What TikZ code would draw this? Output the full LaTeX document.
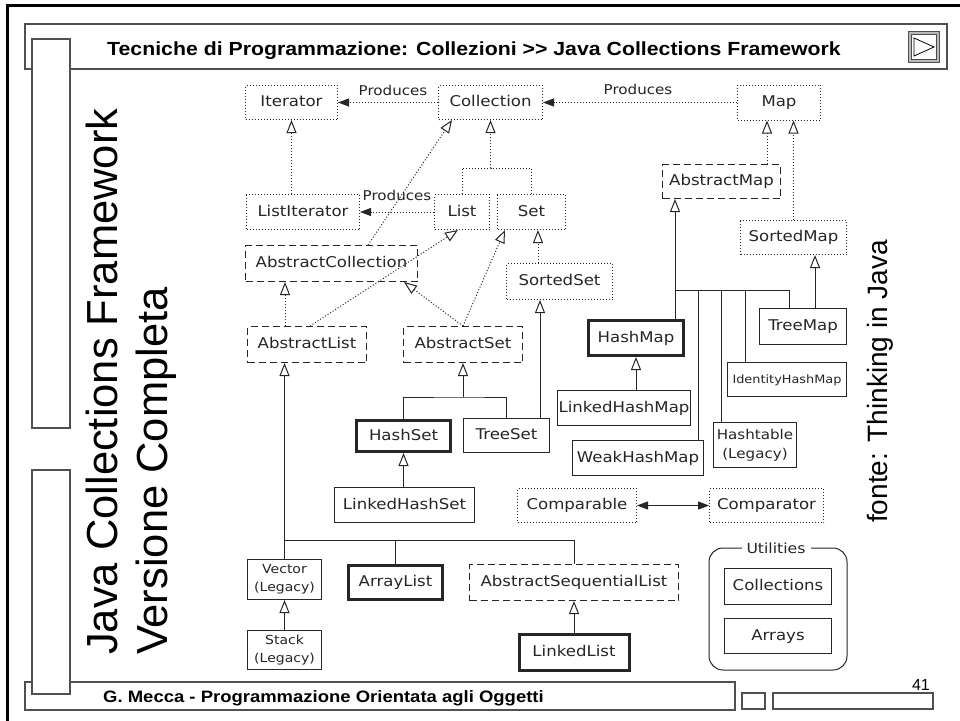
\documentclass[tikz,border=0pt]{standalone}
\usepackage{fontspec}
\setmainfont{DejaVu Sans}[FakeStretch=1.12]
\newfontfamily\arialfont{Liberation Sans}
\newfontfamily\hdrfont[FakeStretch=1.12]{Liberation Sans}
\usetikzlibrary{arrows.meta}
\definecolor{ink}{HTML}{262626}
\definecolor{frm}{HTML}{505050}
\newcommand\dg{\fontsize{14.8}{19}\selectfont}
\newcommand\dgp{\fontsize{13.5}{16}\selectfont}
\newcommand\dgh{\fontsize{13.5}{19}\selectfont}
\newcommand\dgs{\fontsize{12.5}{18}\selectfont}
\newcommand\dgi{\fontsize{11.5}{14}\selectfont}
\tikzset{
  bx/.style={draw=ink, line width=1pt, inner sep=0pt, text=ink, font=\dg},
  sline/.style={text height=11pt, text depth=3pt},
  dotbox/.style={bx, sline, dash pattern=on 1pt off 2pt},
  dashbox/.style={bx, sline, dash pattern=on 7pt off 4pt},
  solbox/.style={bx, sline},
  solbox2/.style={bx, align=center},
  thkbox/.style={bx, sline, line width=3pt},
  dl/.style={draw=ink, line width=1pt, dash pattern=on 1pt off 2pt},
  sl/.style={draw=ink, line width=1pt},
  gen/.style={-{Triangle[open,length=13pt,width=10pt,line width=1pt]}},
  prod/.style={-{Triangle[length=11pt,width=8pt]}},
  lbl/.style={inner sep=0pt, text=ink, font=\dgp},
  frame/.style={draw=frm, line width=1.2pt, fill=white},
}
\begin{document}
\begin{tikzpicture}[x=1pt,y=-1pt]
\useasboundingbox (0,0) rectangle (960,720);
\clip (0,0) rectangle (960,720);
\fill[white] (0,0) rectangle (960,720);
% ---------- slide frame ----------
\draw[line width=3pt] (7,5) rectangle (985,745);
\draw[frame] (25,24) rectangle (947,69);
\draw[frame] (25,682) rectangle (735,710);
\draw[frame] (32,39) rectangle (70,428);
\draw[frame] (32,470) rectangle (70,694);
\draw[frm, line width=1.2pt] (742,693) rectangle (765,709);
\draw[frm, line width=1.2pt] (773,693) rectangle (933,709);
% button
\draw[draw=frm, fill=gray!55, line width=1pt] (908,31) rectangle (939,62);
\draw[draw=gray!60!black, fill=white, line width=0.8pt] (911,34) rectangle (936,59);
\draw[black, line width=0.8pt] (914,38) -- (934,47) -- (914,56) -- cycle;
% ---------- texts ----------
\node[font=\hdrfont\bfseries\fontsize{19}{22}\selectfont, anchor=base west, inner sep=0pt] (hdr) at (107,55.5)
  {Tecniche di Programmazione: Collezioni >{}> Java Collections Framework};
\node[font=\hdrfont\bfseries\fontsize{16.5}{20}\selectfont, anchor=base west, inner sep=0pt] (ftr) at (103,702)
  {G. Mecca - Programmazione Orientata agli Oggetti};
\node[font=\arialfont\fontsize{16}{19}\selectfont, anchor=base east, inner sep=0pt] (pg) at (930,690) {41};
\node[font=\arialfont\fontsize{43.5}{50}\selectfont, rotate=90, anchor=base west, inner sep=0pt] (t1) at (117,655)
  {Java Collections Framework};
\node[font=\arialfont\fontsize{43.5}{50}\selectfont, rotate=90, anchor=base west, inner sep=0pt] (t2) at (167,655)
  {Versione Completa};
\node[font=\arialfont\fontsize{28}{32}\selectfont, rotate=90, anchor=base west, inner sep=0pt] (src) at (887,523)
  {fonte: Thinking in Java};
% ---------- diagram nodes ----------
\node[dotbox, minimum width=92pt, minimum height=34pt] (Iterator) at (291.5,102.5) {Iterator};
\node[dotbox, minimum width=104pt, minimum height=34pt] (Collection) at (490.5,102.5) {Collection};
\node[dotbox, minimum width=83pt, minimum height=35pt] (Map) at (779,102.5) {Map};
\node[dotbox, minimum width=113pt, minimum height=35pt] (ListIterator) at (303,212) {ListIterator};
\node[dotbox, minimum width=55pt, minimum height=35pt] (List) at (462,212) {List};
\node[dotbox, minimum width=68pt, minimum height=35pt] (Set) at (531.5,212) {Set};
\node[dashbox, minimum width=172pt, minimum height=36pt] (AbstractCollection) at (331.5,263.5) {AbstractCollection};
\node[dotbox, minimum width=106pt, minimum height=36pt] (SortedSet) at (559.5,281.5) {SortedSet};
\node[dashbox, minimum width=119pt, minimum height=36pt] (AbstractList) at (307,344.5) {AbstractList};
\node[dashbox, minimum width=119pt, minimum height=36pt] (AbstractSet) at (463,344.5) {AbstractSet};
\node[dashbox, minimum width=118pt, minimum height=34pt] (AbstractMap) at (721.5,181.5) {AbstractMap};
\node[dotbox, minimum width=106pt, minimum height=34pt] (SortedMap) at (793.5,237.5) {SortedMap};
\node[thkbox, minimum width=94pt, minimum height=31pt] (HashSet) at (403.5,436) {HashSet};
\node[solbox, minimum width=86pt, minimum height=34pt] (TreeSet) at (506.5,435.5) {TreeSet};
\node[solbox, minimum width=140pt, minimum height=35pt] (LinkedHashSet) at (404.5,505) {LinkedHashSet};
\node[thkbox, minimum width=95pt, minimum height=35pt] (HashMap) at (636,338) {HashMap};
\node[solbox, minimum width=133pt, minimum height=35pt] (LinkedHashMap) at (624,408) {LinkedHashMap};
\node[solbox, minimum width=131pt, minimum height=35pt] (WeakHashMap) at (638,458) {WeakHashMap};
\node[solbox2, font=\dgh, minimum width=83pt, minimum height=45pt] (Hashtable) at (755,445) {Hashtable\\(Legacy)};
\node[solbox, font=\dgi, minimum width=119pt, minimum height=34pt] (IdentityHashMap) at (787,379.5) {IdentityHashMap};
\node[solbox, minimum width=87pt, minimum height=36pt] (TreeMap) at (803,326.5) {TreeMap};
\node[dotbox, minimum width=119pt, minimum height=34pt] (Comparable) at (577,505.5) {Comparable};
\node[dotbox, minimum width=114pt, minimum height=34pt] (Comparator) at (766.5,505.5) {Comparator};
\node[solbox2, font=\dgs, minimum width=74pt, minimum height=40pt] (Vector) at (284.5,579.5) {Vector\\(Legacy)};
\node[thkbox, minimum width=94pt, minimum height=34pt] (ArrayList) at (395.5,582.5) {ArrayList};
\node[dashbox, minimum width=209pt, minimum height=36pt] (AbstractSequentialList) at (574,582.5) {AbstractSequentialList};
\node[solbox2, font=\dgs, minimum width=74pt, minimum height=39pt] (Stack) at (284.5,650) {Stack\\(Legacy)};
\node[thkbox, minimum width=110pt, minimum height=36pt] (LinkedList) at (574,652.5) {LinkedList};
\node[draw=ink, line width=1pt, rounded corners=14pt, inner sep=0pt, minimum width=138pt, minimum height=122pt] (Utilities) at (778,609) {};
\node[lbl, font=\fontsize{14}{17}\selectfont, fill=white, inner xsep=5pt, inner ysep=1pt] (UtilLabel) at (776,548) {Utilities};
\node[solbox, minimum width=107pt, minimum height=36pt] (Collections) at (778,586.5) {Collections};
\node[solbox, minimum width=107pt, minimum height=35pt] (Arrays) at (778,636) {Arrays};
% ---------- helper coordinates ----------
\coordinate (jc) at (490.5,168);
\coordinate (xSS) at (538,0);
\coordinate (xTS) at (540,0);
\coordinate (jas) at (463,397);
\coordinate (xAL) at (285,0);
\coordinate (jal) at (284.5,540);
\coordinate (xM1) at (767,0);
\coordinate (jam) at (675,290);
\coordinate (k1) at (698,290);
\coordinate (k2) at (721,290);
\coordinate (k3) at (745,290);
\coordinate (k4) at (789,290);
\coordinate (xTM) at (815,0);
% ---------- "Produces" ----------
\draw[dl,prod] (Collection) -- (Iterator);
\node[lbl] (p1) at (393,90) {Produces};
\draw[dl,prod] (Map) -- (Collection);
\node[lbl] (p2) at (638,89) {Produces};
\draw[dl,prod] (List) -- (ListIterator);
\node[lbl] (p3) at (397,195) {Produces};
% ---------- interface inheritance (dotted) ----------
\draw[dl,gen] (ListIterator.north -| Iterator.south) -- (Iterator.south);
\draw[dl] (List.north) |- (jc) -| (Set.north);
\draw[dl,gen] (jc) -- (Collection.south);
\draw[dl,gen] ([xshift=-50pt]AbstractCollection.north east) -- ([xshift=-38.5pt]Collection.south);
\draw[dl,gen] ([xshift=3pt]AbstractList.north) -- ([xshift=-4pt]List.south);
\draw[dl,gen] (AbstractList.north -| xAL) -- (AbstractCollection.south -| xAL);
\draw[dl,gen] (AbstractSet.north) -- ([xshift=-14pt]AbstractCollection.south east);
\draw[dl,gen] (AbstractSet.north) -- ([xshift=-26.5pt]Set.south);
\draw[dl,gen] (SortedSet.north -| xSS) -- (Set.south -| xSS);
\draw[dl,gen] (AbstractMap.north -| xM1) -- (Map.south -| xM1);
\draw[dl,gen] (SortedMap.north) -- (SortedMap.north |- Map.south);
% ---------- class inheritance (solid) ----------
\draw[sl] (HashSet.north) |- (jas) -| (TreeSet.north);
\draw[sl,gen] (jas) -- (AbstractSet.south);
\draw[sl,gen] (TreeSet.north -| xTS) -- (SortedSet.south -| xTS);
\draw[sl,gen] (LinkedHashSet.north -| HashSet.south) -- (HashSet.south);
\draw[sl,gen] (jal) -- (AbstractList.south -| jal);
\draw[sl] (Vector.north) -- (jal) -| (AbstractSequentialList.north);
\draw[sl] (ArrayList.north) -- (ArrayList.north |- jal);
\draw[sl,gen] (Stack.north) -- (Vector.south);
\draw[sl,gen] (LinkedList.north) -- (AbstractSequentialList.south);
\draw[sl,gen] (HashMap.north -| jam) -- (AbstractMap.south -| jam);
\draw[sl] (jam) -- (k4) -- (TreeMap.north -| k4);
\draw[sl] (k1) -- (WeakHashMap.north -| k1);
\draw[sl] (k2) -- (Hashtable.north -| k2);
\draw[sl] (k3) -- (IdentityHashMap.north -| k3);
\draw[sl,gen] (TreeMap.north -| xTM) -- (SortedMap.south -| xTM);
\draw[sl,gen] (LinkedHashMap.north -| HashMap.south) -- (HashMap.south);
\draw[sl,{Triangle[length=11pt,width=8pt]}-{Triangle[length=11pt,width=8pt]}] (Comparable) -- (Comparator);
\end{tikzpicture}
\end{document}
